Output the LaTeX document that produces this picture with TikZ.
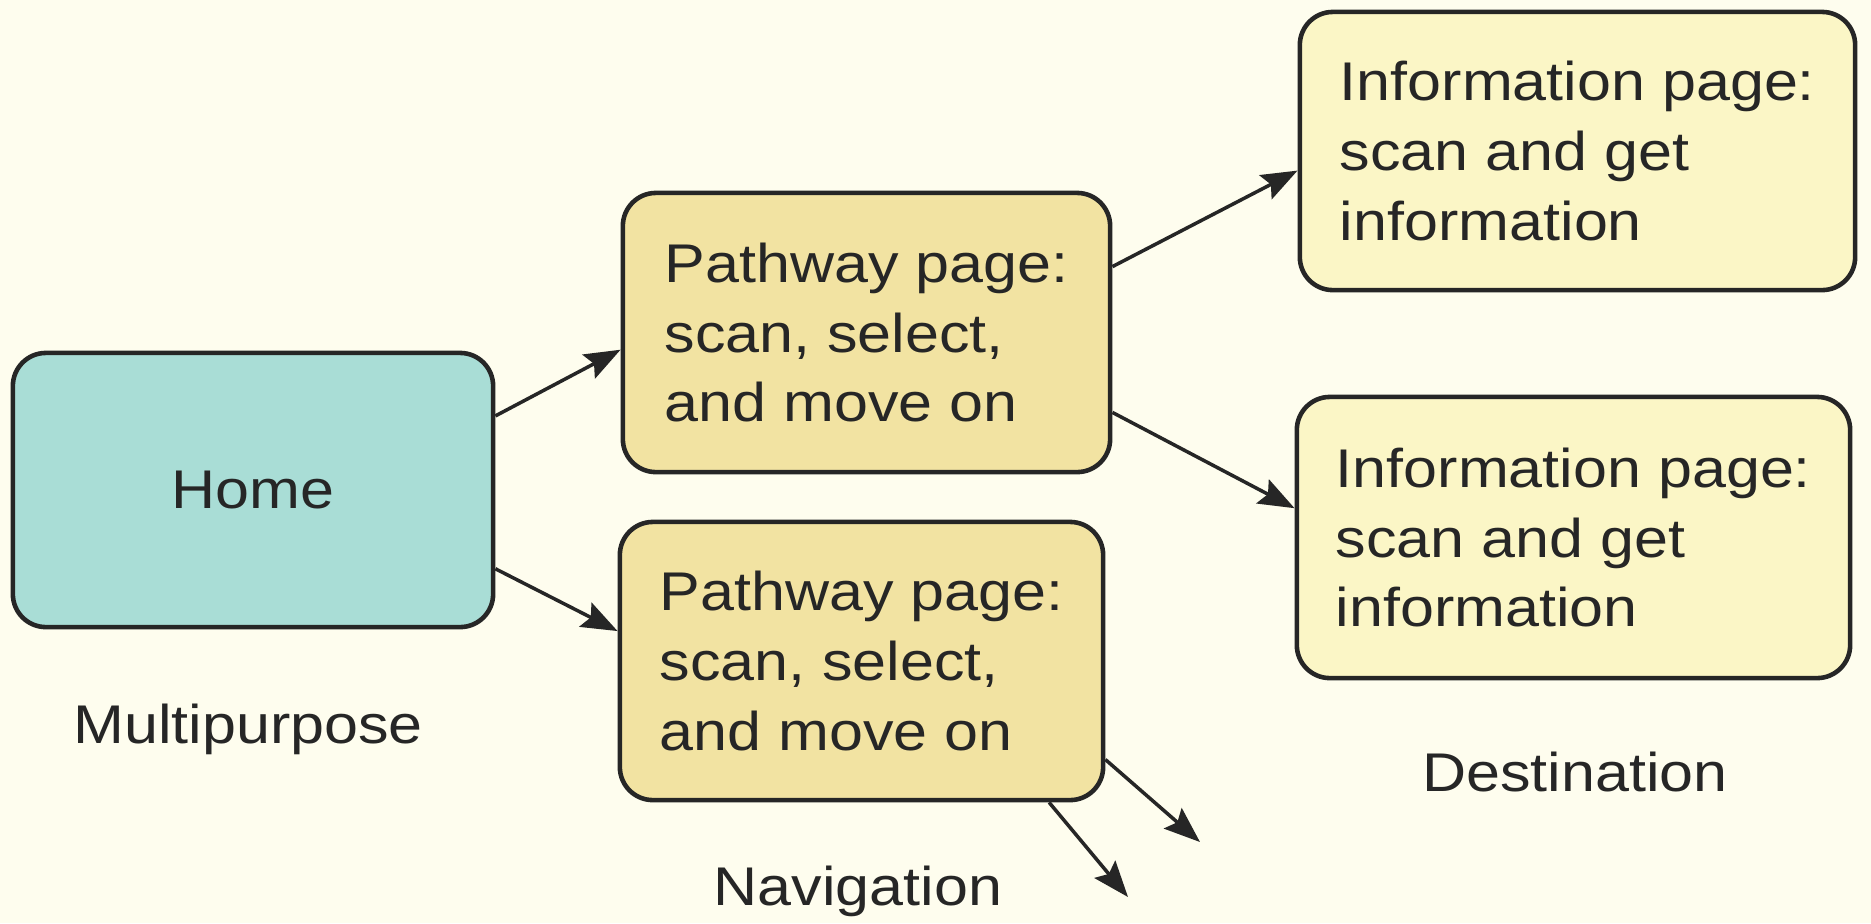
\documentclass[tikz,border=0pt]{standalone}
\usepackage{fontspec}
\setmainfont{Liberation Sans}[FakeStretch=1.12]
\usetikzlibrary{arrows.meta}
\definecolor{bg}{HTML}{FEFDEE}
\definecolor{homefill}{HTML}{A9DDD6}
\definecolor{pathfill}{HTML}{F2E3A2}
\definecolor{infofill}{HTML}{FBF6C6}
\definecolor{edge}{HTML}{262626}
\definecolor{txt}{HTML}{262626}
\begin{document}
\begin{tikzpicture}[x=0.01cm,y=-0.01cm,
  box/.style={draw=edge, line width=1.3pt, rounded corners=0.33cm, align=left, inner sep=0pt,
    font=\fontsize{15.5}{19.9}\selectfont, text=txt},
  conn/.style={draw=edge, line width=1pt, -{Stealth[length=3.6mm,width=2.7mm,inset=0.6mm]}},
  lbl/.style={font=\fontsize{15.5}{19.9}\selectfont, text=txt, inner sep=0pt}]
\fill[bg] (0,0) rectangle (1871,923);
\useasboundingbox (0,0) rectangle (1871,923);

\node[box, fill=homefill, minimum width=4.80cm, minimum height=2.74cm] (home) at (253,490) {Home};
\node[box, fill=pathfill, minimum width=4.87cm, minimum height=2.79cm] (p1) at (866.5,332.5)
  {Pathway page:\\scan, select,\\and move on};
\node[box, fill=pathfill, minimum width=4.83cm, minimum height=2.78cm] (p2) at (861.5,661)
  {Pathway page:\\scan, select,\\and move on};
\node[box, fill=infofill, minimum width=5.55cm, minimum height=2.78cm] (i1) at (1577.5,151)
  {Information page:\\scan and get\\information};
\node[box, fill=infofill, minimum width=5.53cm, minimum height=2.81cm] (i2) at (1573.5,537.5)
  {Information page:\\scan and get\\information};

\node[lbl] (multi) at (248,729) {Multipurpose};
\node[lbl] (navi) at (858,891) {Navigation};
\node[lbl] (dest) at (1575,772) {Destination};

\coordinate (n1) at (1200,842);
\coordinate (n2) at (1128,897);

\draw[conn] (home.17.8) -- (p1.184.5);
\draw[conn] (home.-18.4) -- (p2.173.9);
\draw[conn] (p1.15.5) -- (i1.184.3);
\draw[conn] (p1.-18.4) -- (i2.174.8);
\draw[conn] (p2.-22.5) -- (n1);
\draw[conn] (p2.-37.8) -- (n2);
\end{tikzpicture}
\end{document}
